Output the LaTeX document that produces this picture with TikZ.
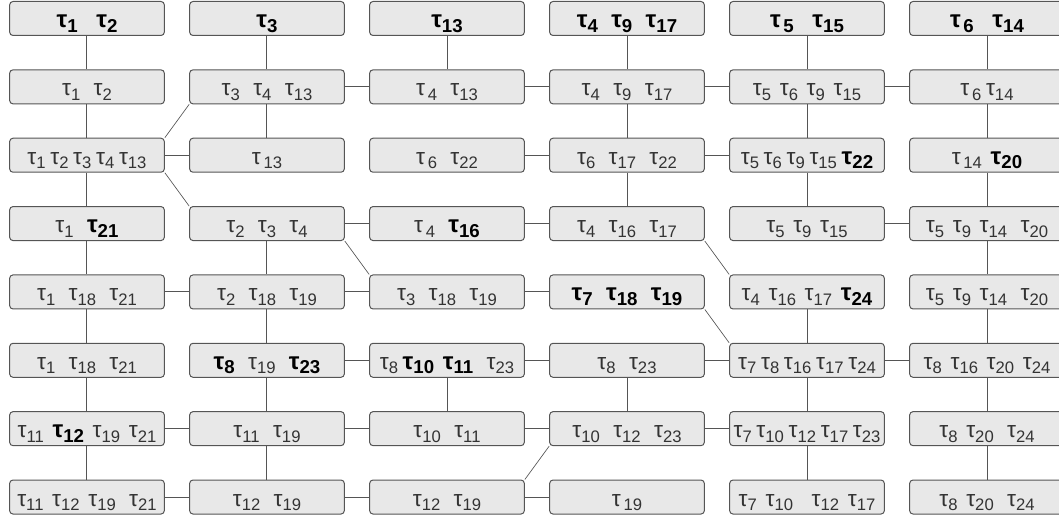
\documentclass[tikz,border=0pt]{standalone}
\usepackage{fontspec}
\setmainfont{Liberation Sans}
\usepackage{xcolor}
\usepackage{tikz}
\usetikzlibrary{positioning}

\definecolor{cellfill}{HTML}{E8E8E8}
\definecolor{celldraw}{HTML}{555555}
\definecolor{celltext}{HTML}{333333}

\newcommand{\tauR}[2][0pt]{{\fontsize{17}{20}\selectfont τ}\hspace{#1}\raisebox{-3.5pt}{\fontsize{12.5}{15}\selectfont #2}}
\newcommand{\tauB}[2][0pt]{{\color{black}\bfseries\fontsize{18}{21}\selectfont τ\hspace{#1}\raisebox{-3.5pt}{\fontsize{14}{16}\selectfont #2}}}
\newcommand{\gx}{\hspace{14pt}}
\newcommand{\gw}{\hspace{10pt}}
\newcommand{\gm}{\hspace{6.5pt}}
\newcommand{\gn}{\hspace{3.5pt}}

\begin{document}
\begin{tikzpicture}[x=135pt, y=-51.27pt,
    cell/.style={draw=celldraw, line width=0.75pt, fill=cellfill, rounded corners=2.5pt, minimum width=116pt, minimum height=25.5pt, inner sep=0pt, text=celltext, text height=15pt, text depth=1.5pt},
    link/.style={draw=celldraw, line width=0.75pt}]
    \useasboundingbox (-0.4833,-0.2706) rectangle (5.4,7.336);
    \clip (-0.4833,-0.2706) rectangle (5.4,7.336);
    \node[cell] (n11) at (0,0) {\tauB{1}\gx\tauB{2}};
    \node[cell] (n12) at (1,0) {\tauB{3}};
    \node[cell] (n13) at (2,0) {\tauB{13}};
    \node[cell] (n14) at (3,0) {\tauB{4}\gw\tauB{9}\gw\tauB{17}};
    \node[cell] (n15) at (4,0) {\tauB[2pt]{5}\gx\tauB{15}};
    \node[cell] (n16) at (5,0) {\tauB[2pt]{6}\gx\tauB{14}};
    \node[cell] (n21) at (0,1) {\tauR{1}\gw\tauR{2}};
    \node[cell] (n22) at (1,1) {\tauR{3}\gw\tauR{4}\gw\tauR{13}};
    \node[cell] (n23) at (2,1) {\tauR[2pt]{4}\gw\tauR{13}};
    \node[cell] (n24) at (3,1) {\tauR{4}\gw\tauR{9}\gw\tauR{17}};
    \node[cell] (n25) at (4,1) {\tauR{5}\gm\tauR{6}\gm\tauR{9}\gm\tauR{15}};
    \node[cell] (n26) at (5,1) {\tauR[2pt]{6}\gn\tauR{14}};
    \node[cell] (n31) at (0,2) {\tauR{1}\gn\tauR{2}\gn\tauR{3}\gn\tauR{4}\gn\tauR{13}};
    \node[cell] (n32) at (1,2) {\tauR[2pt]{13}};
    \node[cell] (n33) at (2,2) {\tauR[2pt]{6}\gw\tauR{22}};
    \node[cell] (n34) at (3,2) {\tauR{6}\gw\tauR{17}\gw\tauR{22}};
    \node[cell] (n35) at (4,2) {\tauR{5}\gn\tauR{6}\gn\tauR{9}\gn\tauR{15}\gn\tauB{22}};
    \node[cell] (n36) at (5,2) {\tauR[2pt]{14}\gm\tauB{20}};
    \node[cell] (n41) at (0,3) {\tauR{1}\gw\tauB{21}};
    \node[cell] (n42) at (1,3) {\tauR{2}\gw\tauR{3}\gw\tauR{4}};
    \node[cell] (n43) at (2,3) {\tauR[2pt]{4}\gw\tauB{16}};
    \node[cell] (n44) at (3,3) {\tauR{4}\gw\tauR{16}\gw\tauR{17}};
    \node[cell] (n45) at (4,3) {\tauR{5}\gm\tauR{9}\gm\tauR{15}};
    \node[cell] (n46) at (5,3) {\tauR{5}\gm\tauR{9}\gm\tauR{14}\gw\tauR{20}};
    \node[cell] (n51) at (0,4) {\tauR{1}\gw\tauR{18}\gw\tauR{21}};
    \node[cell] (n52) at (1,4) {\tauR{2}\gw\tauR{18}\gw\tauR{19}};
    \node[cell] (n53) at (2,4) {\tauR{3}\gw\tauR{18}\gw\tauR{19}};
    \node[cell] (n54) at (3,4) {\tauB{7}\gw\tauB{18}\gw\tauB{19}};
    \node[cell] (n55) at (4,4) {\tauR{4}\gm\tauR{16}\gm\tauR{17}\gm\tauB{24}};
    \node[cell] (n56) at (5,4) {\tauR{5}\gm\tauR{9}\gm\tauR{14}\gw\tauR{20}};
    \node[cell] (n61) at (0,5) {\tauR{1}\gw\tauR{18}\gw\tauR{21}};
    \node[cell] (n62) at (1,5) {\tauB{8}\gw\tauR{19}\gw\tauB{23}};
    \node[cell] (n63) at (2,5) {\tauR{8}\gn\tauB{10}\gm\tauB{11}\gw\tauR{23}};
    \node[cell] (n64) at (3,5) {\tauR{8}\gw\tauR{23}};
    \node[cell] (n65) at (4,5) {\tauR{7}\gn\tauR{8}\gn\tauR{16}\gn\tauR{17}\gn\tauR{24}};
    \node[cell] (n66) at (5,5) {\tauR{8}\gm\tauR{16}\gm\tauR{20}\gm\tauR{24}};
    \node[cell] (n71) at (0,6) {\tauR{11}\gm\tauB{12}\gm\tauR{19}\gm\tauR{21}};
    \node[cell] (n72) at (1,6) {\tauR{11}\gw\tauR{19}};
    \node[cell] (n73) at (2,6) {\tauR{10}\gw\tauR{11}};
    \node[cell] (n74) at (3,6) {\tauR{10}\gw\tauR{12}\gw\tauR{23}};
    \node[cell] (n75) at (4,6) {\tauR{7}\gn\tauR{10}\gn\tauR{12}\gn\tauR{17}\gn\tauR{23}};
    \node[cell] (n76) at (5,6) {\tauR{8}\gm\tauR{20}\gw\tauR{24}};
    \node[cell] (n81) at (0,7) {\tauR{11}\gm\tauR{12}\gm\tauR{19}\gw\tauR{21}};
    \node[cell] (n82) at (1,7) {\tauR{12}\gw\tauR{19}};
    \node[cell] (n83) at (2,7) {\tauR{12}\gw\tauR{19}};
    \node[cell] (n84) at (3,7) {\tauR[2pt]{19}};
    \node[cell] (n85) at (4,7) {\tauR{7}\gm\tauR{10}\gx\tauR{12}\gm\tauR{17}};
    \node[cell] (n86) at (5,7) {\tauR{8}\gm\tauR{20}\gw\tauR{24}};
    \draw[link] (n11) -- (n21) (n21) -- (n31) (n31) -- (n41) (n41) -- (n51) (n51) -- (n61) (n61) -- (n71) (n71) -- (n81);
    \draw[link] (n12) -- (n22) (n22) -- (n32) (n42) -- (n52) (n52) -- (n62) (n62) -- (n72) (n72) -- (n82);
    \draw[link] (n13) -- (n23) (n63) -- (n73);
    \draw[link] (n14) -- (n24) (n24) -- (n34) (n34) -- (n44) (n64) -- (n74);
    \draw[link] (n15) -- (n25) (n25) -- (n35) (n35) -- (n45) (n55) -- (n65) (n65) -- (n75) (n75) -- (n85);
    \draw[link] (n16) -- (n26) (n26) -- (n36) (n36) -- (n46) (n46) -- (n56) (n56) -- (n66) (n66) -- (n76) (n76) -- (n86);
    \draw[link] (n22) -- (n23) (n23) -- (n24) (n24) -- (n25) (n25) -- (n26);
    \draw[link] (n31) -- (n32) (n33) -- (n34) (n34) -- (n35);
    \draw[link] (n42) -- (n43) (n43) -- (n44) (n45) -- (n46);
    \draw[link] (n51) -- (n52) (n52) -- (n53) (n53) -- (n54);
    \draw[link] (n62) -- (n63) (n63) -- (n64) (n64) -- (n65) (n65) -- (n66);
    \draw[link] (n71) -- (n72) (n72) -- (n73) (n73) -- (n74) (n74) -- (n75);
    \draw[link] (n81) -- (n82) (n82) -- (n83) (n83) -- (n84);
    \draw[link, line width=0.5pt] (n31.north east) -- (n22.south west) (n31.south east) -- (n42.north west) (n42.south east) -- (n53.north west) (n44.south east) -- (n55.north west) (n54.south east) -- (n65.north west) (n83.north east) -- (n74.south west);
\end{tikzpicture}
\end{document}
